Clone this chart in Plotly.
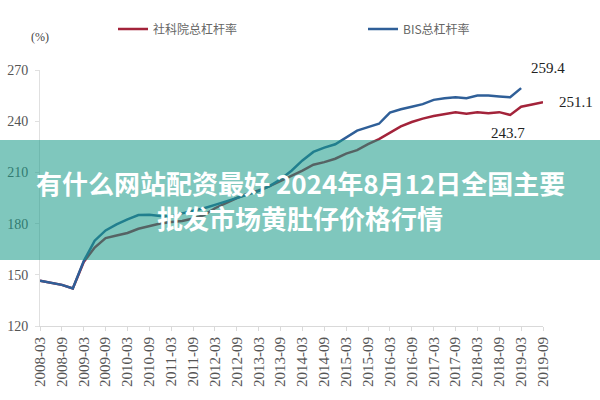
import plotly.graph_objects as go

# Quarterly periods 2008-03 .. 2019-09
quarters = []
for yr in range(2008, 2020):
    for m in ("03", "06", "09", "12"):
        q = f"{yr}-{m}"
        if q <= "2019-09":
            quarters.append(q)

tick_labels = [q for q in quarters if q.endswith("-03") or q.endswith("-09")]

cass_name = "社科院总杠杆率"
bis_name = "BIS总杠杆率"

cass_values = [146.5, 145.3, 144.1, 142.0, 157.5, 166.0, 171.5, 173.0, 174.5, 177.0,
               178.5, 180.0, 181.0, 181.5, 183.0, 185.0, 189.0, 192.0, 195.0, 197.5,
               199.5, 202.0, 205.0, 208.0, 211.0, 214.5, 216.0, 218.0, 221.0, 223.0,
               226.5, 229.5, 233.5, 237.0, 239.5, 241.5, 243.0, 244.0, 245.2, 244.3,
               245.2, 244.6, 245.3, 243.7, 248.5, 249.8, 251.1]

bis_values = [146.5, 145.3, 144.1, 142.0, 158.0, 170.0, 176.0, 179.5, 182.5, 185.0,
              185.2, 184.5, 184.0, 186.0, 187.5, 189.0, 191.0, 193.0, 195.0, 197.0,
              199.0, 202.0, 206.0, 211.0, 217.0, 222.0, 224.5, 226.5, 230.5, 234.5,
              236.5, 238.5, 245.0, 247.0, 248.5, 250.0, 252.5, 253.5, 254.0, 253.5,
              255.0, 255.0, 254.5, 254.0, 259.4]

y_ticks = [120, 150, 180, 210, 240, 270]

overlay_line1 = "有什么网站配资最好 2024年8月12日全国主要"
overlay_line2 = "批发市场黄肚仔价格行情"

RED = "#A3233A"
BLUE = "#2F5F98"
SERIF = "Liberation Serif, Times New Roman, serif"
CJK = "Noto Sans CJK SC"

PW, PH, ML, MT = 503, 256, 40, 70


def px_x(x):
    return (x - ML) / PW


def px_y(y):
    return (MT + PH - y) / PH


fig = go.Figure()
fig.add_trace(go.Scatter(x=quarters[:len(cass_values)], y=cass_values, mode="lines",
                         name=cass_name, line=dict(color=RED, width=2.5),
                         legend="legend"))
fig.add_trace(go.Scatter(x=quarters[:len(bis_values)], y=bis_values, mode="lines",
                         name=bis_name, line=dict(color=BLUE, width=2.5),
                         legend="legend2"))

# value labels
labels = [
    (quarters[len(bis_values) - 1], bis_values[-1], 27, 20),
    (quarters[len(cass_values) - 1], cass_values[-1], 33, 0),
    (quarters[43], cass_values[43], -2, -18),
]
for xq, yv, xs, ys in labels:
    fig.add_annotation(x=xq, y=yv, text=f"{yv:.1f}", showarrow=False,
                       xshift=xs, yshift=ys,
                       font=dict(family=SERIF, size=15, color="#222222"))

fig.add_annotation(x=0, y=px_y(37), xref="paper", yref="paper", text="(%)",
                   showarrow=False, xanchor="center", yanchor="middle",
                   font=dict(family=SERIF, size=12, color="#444444"))

# overlay banner
fig.add_shape(type="rect", xref="paper", yref="paper",
              x0=px_x(0), x1=px_x(600), y0=px_y(260), y1=px_y(140),
              fillcolor="rgba(22,153,135,0.55)", line=dict(width=0), layer="above")
for txt, ypix in ((overlay_line1, 182), (overlay_line2, 217)):
    fig.add_annotation(x=px_x(300), y=px_y(ypix), xref="paper", yref="paper",
                       text=f"<b>{txt}</b>", showarrow=False,
                       xanchor="center", yanchor="middle",
                       font=dict(family=CJK, size=26, color="white"))

legend_common = dict(orientation="h", xanchor="left", yanchor="middle",
                     font=dict(family=CJK, size=12, color="#666666"),
                     bgcolor="rgba(0,0,0,0)")

fig.update_layout(
    width=600, height=400,
    margin=dict(l=ML, r=600 - ML - PW, t=MT, b=400 - MT - PH, autoexpand=False),
    paper_bgcolor="white", plot_bgcolor="white",
    showlegend=True,
    legend=dict(x=px_x(113), y=px_y(29), **legend_common),
    legend2=dict(x=px_x(363), y=px_y(29), **legend_common),
    xaxis=dict(type="category", range=[0, len(quarters) - 1],
               tickmode="array", tickvals=tick_labels, ticktext=tick_labels,
               tickangle=-90, showgrid=False, showline=True, linecolor="#d9d9d9",
               ticks="outside", ticklen=4, tickcolor="#d9d9d9",
               tickfont=dict(family=SERIF, size=15, color="#555555")),
    yaxis=dict(range=[120, 270], tickvals=y_ticks, showgrid=False, zeroline=False,
               showline=True, linecolor="#e0e0e0", ticks="outside", ticklen=4,
               tickcolor="#e0e0e0", ticklabelstandoff=4,
               tickfont=dict(family=SERIF, size=14, color="#555555")),
)

fig.write_html("out.html")
